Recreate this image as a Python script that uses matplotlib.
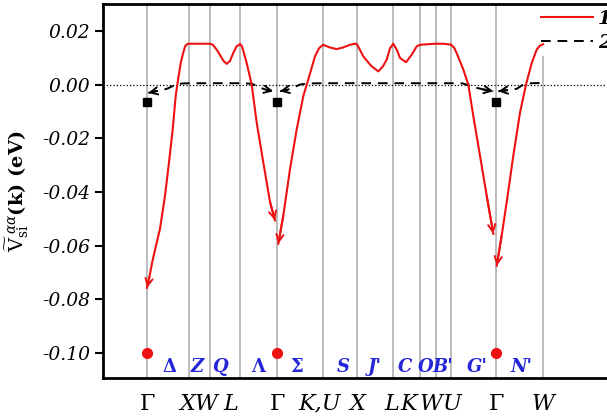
import matplotlib
matplotlib.use("Agg")
import matplotlib.pyplot as plt
from matplotlib.lines import Line2D
from matplotlib.ticker import FuncFormatter

plt.rcParams['font.family'] = ['DejaVu Serif']
plt.rcParams['mathtext.fontset'] = 'dejavuserif'

# high-symmetry points along the path
tick_pos = [0, 42, 63, 93, 130, 176, 210, 246, 273, 289, 304, 349, 396]
tick_lab = ['Γ', 'X', 'W', 'L', 'Γ', 'K,U', 'X', 'L', 'K', 'W', 'U', 'Γ', 'W']
gamma_pos = [0, 130, 349]

# line labels inside the plot
line_lab = ['Δ', 'Z', 'Q', 'Λ', 'Σ', 'S', "J'", 'C', 'O', "B'", "G'", "N'"]
line_lab_pos = [22, 50, 73, 111, 150, 196, 228, 258, 279, 296, 330, 374]

# series 1 (red), pieces between Gamma points
r1_x = [0, 2.5, 5.3, 9, 13, 18, 22, 25.7, 28.7, 30.3, 33.7, 36, 38, 40, 42, 63, 66, 70, 73, 76.5, 79.7,
        83, 86, 89.5, 93]
r1_y = [-0.0757, -0.0715, -0.066, -0.060, -0.0537, -0.0414, -0.029, -0.0167, -0.0043, 0.0, 0.008, 0.0115,
        0.0142, 0.0150, 0.0152, 0.0152, 0.0148, 0.0128, 0.011, 0.0088, 0.0077, 0.0088, 0.0115, 0.0142, 0.0150]
r2_x = [93, 95, 99.7, 104.7, 109.7, 116.3, 123, 128]
r2_y = [0.0150, 0.0143, 0.008, 0.0, -0.0142, -0.029, -0.0437, -0.0506]
r3_x = [131.3, 136.3, 143, 149.7, 156.3, 161.3, 168, 172, 176, 183, 189.7, 196, 203, 208, 210, 216.3, 224,
        231.3, 236, 239.7, 243, 246.3, 250, 253, 259, 264.7, 269.7, 273, 280, 288, 296, 301.3, 304]
r3_y = [-0.0593, -0.0488, -0.0315, -0.0167, -0.0043, 0.0019, 0.0105, 0.0135, 0.0148, 0.0138, 0.0132, 0.0138,
        0.0148, 0.0152, 0.0150, 0.0105, 0.0070, 0.0049, 0.0068, 0.0093, 0.0135, 0.0152, 0.0128, 0.0099,
        0.0083, 0.0111, 0.0142, 0.0148, 0.0150, 0.0152, 0.0152, 0.0150, 0.0148]
r4_x = [304, 307, 309.7, 316.3, 321.3, 326.3, 333, 339.7, 346.3]
r4_y = [0.0148, 0.0138, 0.0117, 0.0056, 0.0, -0.0117, -0.0265, -0.0414, -0.0556]
r5_x = [349.7, 354.7, 359.7, 366.3, 373, 379, 384.7, 389.7, 393, 396]
r5_y = [-0.0675, -0.0562, -0.0438, -0.0265, -0.0105, 0.0, 0.008, 0.013, 0.0145, 0.0150]

# series 2 (black dashed)
b1_x = [1.3, 10, 19.7, 25, 29.7, 35, 42, 63, 93, 105, 113, 120, 126.3]
b1_y = [-0.0031, -0.0024, -0.0016, -0.0007, 0.0, 0.0004, 0.0005, 0.0005, 0.0005, 0.0003, -0.0012, -0.0020, -0.0025]
b2_x = [133, 140, 146, 153, 160, 176, 210, 246, 273, 304, 316, 326.3, 336, 346.3]
b2_y = [-0.0025, -0.0020, -0.0012, 0.0, 0.0004, 0.0005, 0.0005, 0.0005, 0.0005, 0.0005, 0.0004, -0.0009,
        -0.0018, -0.0025]
b3_x = [351.3, 360, 369.7, 376.3, 385, 396]
b3_y = [-0.0025, -0.0021, -0.0016, 0.0, 0.0005, 0.0006]

square_y = -0.0066
dot_y = -0.100

RED = '#ee1111'
BLUE = '#2626d9'

# horizontal nudge of the path labels (x units = pixels here), as placed in the original
lab_shift = [0, -2, -4, -9, 0, -3, 0, -1.5, -11.5, -5, 1, 0, 0]
# the last guide line stops under the legend
line_top = [1] * 12 + [0.858]


def arrow(ax, xs, ys, at_start, color, z):
    if at_start:
        tip, tail = (xs[0], ys[0]), (xs[1], ys[1])
    else:
        tip, tail = (xs[-1], ys[-1]), (xs[-2], ys[-2])
    ax.annotate('', xy=tip, xytext=tail, zorder=z,
                arrowprops=dict(arrowstyle='->', color=color, lw=1.4,
                                shrinkA=0, shrinkB=0, mutation_scale=13))


fig = plt.figure(figsize=(6.07, 4.18), dpi=100)
ax = fig.add_axes([103 / 607, 40 / 418, 517 / 607, 374 / 418])

for p, top in zip(tick_pos, line_top):
    ax.axvline(p, ymax=top, color='#a8a8a8', lw=1.1, zorder=1)
ax.axhline(0, color='k', ls=':', lw=0.9, zorder=2)

for xs, ys, st in [(r1_x, r1_y, True), (r2_x, r2_y, False), (r3_x, r3_y, True),
                   (r4_x, r4_y, False), (r5_x, r5_y, True)]:
    ax.plot(xs, ys, color=RED, lw=1.5, zorder=6)
    arrow(ax, xs, ys, st, RED, 6)

for xs, ys, ends in [(b1_x, b1_y, (True, True)), (b2_x, b2_y, (True, True)), (b3_x, b3_y, (True, False))]:
    ax.plot(xs, ys, color='k', lw=1.4, ls=(0, (5, 3.5)), zorder=4)
    if ends[0]:
        arrow(ax, xs, ys, True, 'k', 4)
    if ends[1]:
        arrow(ax, xs, ys, False, 'k', 4)

ax.plot(gamma_pos, [square_y] * len(gamma_pos), 's', color='k', ms=6, zorder=5)
ax.plot(gamma_pos, [dot_y] * len(gamma_pos), 'o', color=RED, ms=7, zorder=5)

for lab, xp in zip(line_lab, line_lab_pos):
    greek = lab in ('Δ', 'Λ', 'Σ')
    ax.text(xp, -0.1052, lab, color=BLUE, fontsize=13, ha='center', va='center',
            fontstyle='normal' if greek else 'italic', fontweight='bold')

ax.set_xlim(-44, 473)
ax.set_ylim(-0.1093, 0.030)
ax.set_xticks(tick_pos)
ax.set_xticklabels([])
ax.tick_params(axis='x', length=0)
for p, lab, dx in zip(tick_pos, tick_lab, lab_shift):
    ax.text(p + dx, -0.039, lab, transform=ax.get_xaxis_transform(), ha='center', va='top',
            fontsize=16, fontstyle='normal' if lab == 'Γ' else 'italic')

ax.set_yticks([-0.10, -0.08, -0.06, -0.04, -0.02, 0.00, 0.02])
ax.yaxis.set_major_formatter(FuncFormatter(lambda v, p: f'{v:.2f}'))
ax.tick_params(axis='y', direction='out', length=6, width=1.5, pad=3, labelsize=13.5)
for t in ax.get_yticklabels():
    t.set_fontstyle('italic')

for s in ['left', 'top', 'bottom']:
    ax.spines[s].set_linewidth(2)
ax.spines['right'].set_visible(False)

ax.set_ylabel(r'$\widetilde{\mathrm{V}}_{\mathrm{si}}^{\;\alpha\alpha}\mathbf{(k)}$ (eV)',
              fontsize=14, fontweight='bold', labelpad=8)

handles = [Line2D([], [], color=RED, lw=1.5),
           Line2D([], [], color='k', lw=1.4, ls=(0, (5, 3.5)))]
leg = ax.legend(handles, ['1', '2'], loc='upper left', bbox_to_anchor=(541 / 607, 1 - 9.5 / 418),
                bbox_transform=fig.transFigure, frameon=False, borderaxespad=0, borderpad=0,
                handlelength=2.67, handletextpad=0.25, labelspacing=0.35,
                prop=dict(size=14, style='italic', weight='bold'))
leg.set_zorder(5)

fig.savefig('out.png', dpi=100)
